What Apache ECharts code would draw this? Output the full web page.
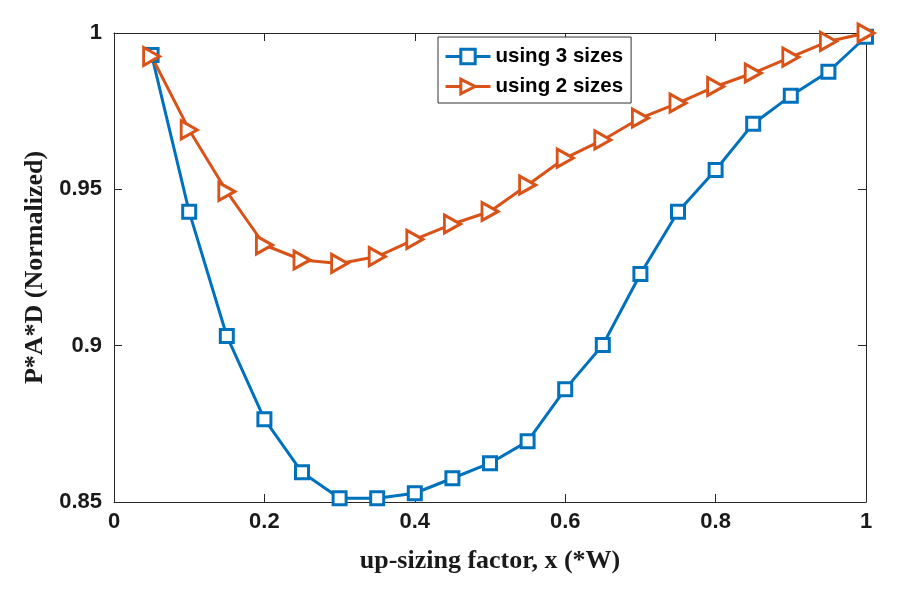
<!DOCTYPE html>
<html><head><meta charset="utf-8">
<script src="https://cdn.jsdelivr.net/npm/echarts@6/dist/echarts.min.js"></script>
<style>html,body{margin:0;padding:0;background:#fff}#c{width:900px;height:600px}</style>
</head><body><div id="c"></div>
<script>
const xValues = [0.05,0.1,0.15,0.2,0.25,0.3,0.35,0.4,0.45,0.5,0.55,0.6,0.65,0.7,0.75,0.8,0.85,0.9,0.95,1.0];
const threeSizes = [0.993,0.9428,0.9031,0.8765,0.8595,0.8512,0.8512,0.8528,0.8576,0.8624,0.8694,0.8861,0.9002,0.9229,0.9428,0.9562,0.9710,0.9799,0.9876,0.9988];
const twoSizes = [0.9925,0.969,0.9493,0.9322,0.9274,0.9263,0.9285,0.9340,0.9389,0.9429,0.9514,0.960,0.9658,0.9728,0.9776,0.9829,0.9872,0.9923,0.9973,1.0];
const seriesNames = ['using 3 sizes','using 2 sizes'];
const xTitle = 'up-sizing factor, x (*W)';
const yTitle = 'P*A*D (Normalized)';

const axisCol = '#262626';
const chart = echarts.init(document.getElementById('c'));
const pair = (ys) => xValues.map((x,i)=>[x,ys[i]]);
const tickLbl = {color:'#1a1a1a', fontFamily:'Liberation Sans, Arial', fontWeight:'bold', fontSize:22};
chart.setOption({
  animation:false,
  grid:{left:114,right:34,top:33,bottom:98,show:false},
  legend:{
    left:438, top:37, orient:'vertical', itemGap:9, itemWidth:45, itemHeight:18,
    padding:[9,8,6,6], borderColor:'#333', borderWidth:1, backgroundColor:'#fff',
    lineStyle:{width:3},
    itemStyle:{borderWidth:3},
    textStyle:{color:'#000', fontFamily:'Liberation Sans, Arial', fontWeight:'bold', fontSize:20.5},
    data: seriesNames
  },
  xAxis:[{
    type:'value', min:0, max:1, interval:0.2,
    name:xTitle, nameLocation:'middle', nameGap:46,
    nameTextStyle:{color:'#1a1a1a', fontFamily:'Liberation Serif, Times New Roman', fontWeight:'bold', fontSize:26},
    axisLine:{show:true, onZero:false, lineStyle:{color:axisCol}},
    axisTick:{show:true, inside:true, length:8, lineStyle:{color:axisCol}},
    axisLabel:Object.assign({margin:9}, tickLbl),
    splitLine:{show:false}
  },{
    type:'value', min:0, max:1, interval:0.2, position:'top',
    axisLine:{show:true, onZero:false, lineStyle:{color:axisCol}},
    axisTick:{show:true, inside:true, length:8, lineStyle:{color:axisCol}},
    axisLabel:{show:false}, splitLine:{show:false}
  }],
  yAxis:[{
    type:'value', min:0.85, max:1, interval:0.05,
    name:yTitle, nameLocation:'middle', nameGap:59,
    nameTextStyle:{color:'#1a1a1a', fontFamily:'Liberation Serif, Times New Roman', fontWeight:'bold', fontSize:26},
    axisLine:{show:true, onZero:false, lineStyle:{color:axisCol}},
    axisTick:{show:true, inside:true, length:8, lineStyle:{color:axisCol}},
    axisLabel:Object.assign({margin:12, formatter:(v)=>String(+v.toFixed(2))}, tickLbl),
    splitLine:{show:false}
  },{
    type:'value', min:0.85, max:1, interval:0.05, position:'right',
    axisLine:{show:true, onZero:false, lineStyle:{color:axisCol}},
    axisTick:{show:true, inside:true, length:8, lineStyle:{color:axisCol}},
    axisLabel:{show:false}, splitLine:{show:false}
  }],
  series:[{
    name:seriesNames[0], type:'line', data:pair(threeSizes),
    symbol:'rect', symbolSize:13,
    lineStyle:{color:'#0072BD', width:3},
    itemStyle:{color:'#fff', borderColor:'#0072BD', borderWidth:3},
    color:'#0072BD'
  },{
    name:seriesNames[1], type:'line', data:pair(twoSizes),
    symbol:'triangle', symbolSize:[18,16], symbolRotate:-90,
    lineStyle:{color:'#D95319', width:3},
    itemStyle:{color:'#fff', borderColor:'#D95319', borderWidth:3},
    color:'#D95319'
  }]
});
</script></body></html>
